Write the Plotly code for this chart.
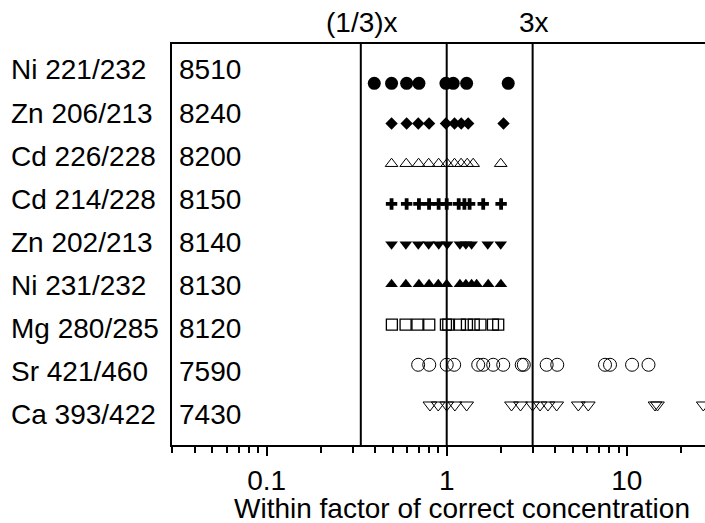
import numpy as np
import plotly.graph_objects as go

# Method / wavelength-ratio rows, top to bottom, with their point counts
rows = ["Ni 221/232", "Zn 206/213", "Cd 226/228", "Cd 214/228", "Zn 202/213",
        "Ni 231/232", "Mg 280/285", "Sr 421/460", "Ca 393/422"]
counts = ["8510", "8240", "8200", "8150", "8140", "8130", "8120", "7590", "7430"]

# Factor of correct concentration for each sample, one list per row
ni221 = [0.396, 0.494, 0.599, 0.701, 0.99, 1.087, 1.29, 2.196]
zn206 = [0.494, 0.599, 0.695, 0.798, 0.99, 1.105, 1.204, 1.316, 2.068]
cd226 = [0.494, 0.596, 0.698, 0.794, 0.902, 1.006, 1.105, 1.202, 1.30, 1.403, 1.995]
cd214 = [0.494, 0.599, 0.701, 0.798, 0.902, 1.0, 1.166, 1.254, 1.34, 1.595, 2.005]
zn202 = [0.494, 0.593, 0.695, 0.794, 0.903, 1.006, 1.184, 1.278, 1.375, 1.69, 1.995]
ni231 = [0.494, 0.593, 0.701, 0.798, 0.898, 1.0, 1.184, 1.278, 1.375, 1.466, 1.70, 2.0]
mg280 = [0.496, 0.591, 0.688, 0.80, 0.99, 1.02, 1.184, 1.295, 1.413, 1.539, 1.806, 1.932]
sr421 = [0.694, 0.80, 1.0, 1.10, 1.496, 1.595, 1.812, 2.06, 2.61, 2.68, 3.59, 4.11,
         7.57, 8.07, 10.7, 13.2]
ca393 = [0.807, 0.897, 1.0, 1.11, 1.29, 2.29, 2.57, 3.0, 3.3, 3.65, 4.08, 5.38, 6.11,
         14.35, 14.8, 26.6]

series = [ni221, zn206, cd226, cd214, zn202, ni231, mg280, sr421, ca393]

# Reference factors drawn as vertical guide lines
guides = [1 / 3, 1.0, 3.0]
guide_labels = {1 / 3: "(1/3)x", 3.0: "3x"}

tick_vals = [0.1, 1, 10]
tick_text = ["0.1", "1", "10"]

FONT = "Arial, 'Liberation Sans', sans-serif"
BLACK = "black"

# marker styles per row: (symbol, size, line width)
styles = [
    ("circle", 13, 0),
    ("diamond", 9.5, 0),
    ("triangle-up-open", 11, 1),
    ("cross", 9.5, 0),
    ("triangle-down", 11, 0),
    ("triangle-up", 11, 0),
    ("square-open", 11, 1.3),
    ("circle-open", 13, 1),
    ("triangle-down-open", 12, 1),
]

fig = go.Figure()

for i, (vals, (sym, size, lw)) in enumerate(zip(series, styles)):
    fig.add_trace(go.Scatter(
        x=vals, y=[i] * len(vals), mode="markers",
        marker=dict(symbol=sym, size=size, color=BLACK,
                    line=dict(color=BLACK, width=lw)),
        showlegend=False, hoverinfo="x",
    ))

# vertical guide lines spanning the whole plot height
y_bottom, y_top = 8.995, -0.977
for g in guides:
    fig.add_trace(go.Scatter(
        x=[g, g], y=[y_bottom, y_top], mode="lines",
        line=dict(color=BLACK, width=2), showlegend=False, hoverinfo="skip",
    ))

annotations = []
for i, (name, n) in enumerate(zip(rows, counts)):
    annotations.append(dict(text=name, xref="paper", yref="y2", x=-0.3066, y=i,
                            xanchor="left", yanchor="middle", showarrow=False,
                            font=dict(family=FONT, size=28, color=BLACK)))
    annotations.append(dict(text=n, xref="paper", yref="y2", x=0.009, y=i,
                            xanchor="left", yanchor="middle", showarrow=False,
                            font=dict(family=FONT, size=28, color=BLACK)))

for g, lab in guide_labels.items():
    annotations.append(dict(text=lab, xref="x", yref="paper", x=np.log10(g), y=1.0,
                            yshift=22, xshift=1, xanchor="center", yanchor="middle",
                            showarrow=False,
                            font=dict(family=FONT, size=28, color=BLACK)))

annotations.append(dict(text="Within factor of correct concentration", xref="paper",
                        yref="paper", x=0.545, y=-0.159, xanchor="center",
                        yanchor="middle", showarrow=False,
                        font=dict(family=FONT, size=28, color=BLACK)))

fig.update_layout(
    width=705, height=523,
    margin=dict(l=172, r=0, t=44, b=78),
    paper_bgcolor="white", plot_bgcolor="white",
    font=dict(family=FONT, size=28, color=BLACK),
    xaxis=dict(
        type="log", range=[-1.5256, 1.4344],
        tickmode="array", tickvals=tick_vals, ticktext=tick_text,
        ticks="outside", ticklen=9, tickwidth=2, tickcolor=BLACK,
        ticklabelstandoff=0,
        minor=dict(ticks="outside", ticklen=6, tickwidth=2, tickcolor=BLACK, dtick="D1"),
        showline=True, linecolor=BLACK, linewidth=2, mirror=True,
        showgrid=False, zeroline=False,
        tickfont=dict(family=FONT, size=28, color=BLACK),
    ),
    yaxis=dict(
        range=[y_bottom, y_top], showticklabels=False, ticks="",
        showline=True, linecolor=BLACK, linewidth=2,
        showgrid=False, zeroline=False,
    ),
    yaxis2=dict(
        range=[8.701, -0.603], overlaying="y", visible=False,
    ),
    annotations=annotations,
)

fig.write_html("out.html")
